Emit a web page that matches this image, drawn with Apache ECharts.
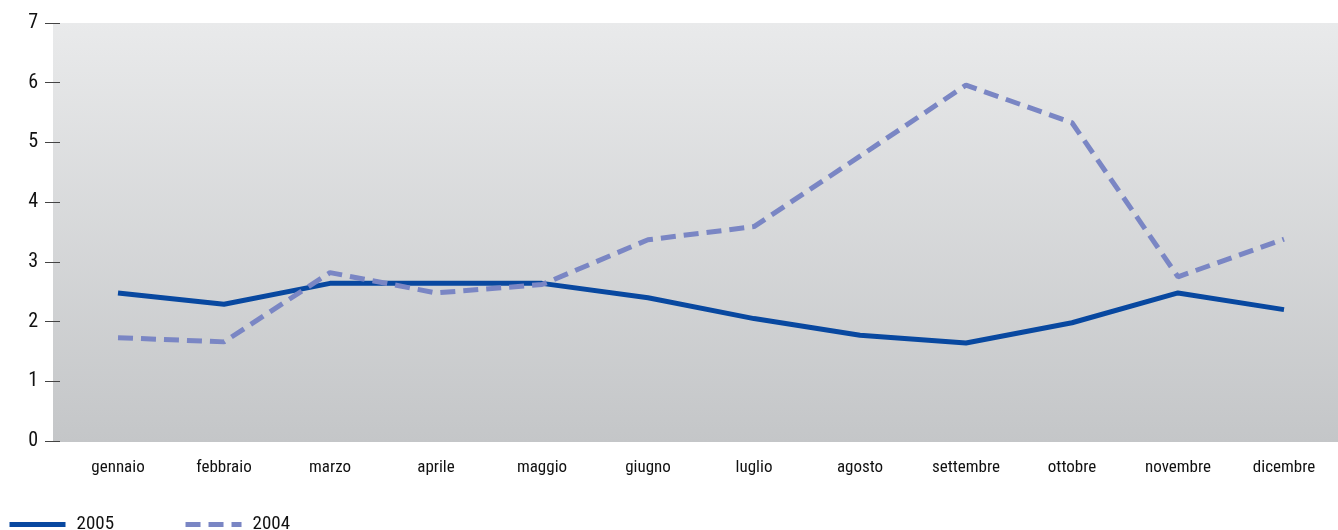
<!DOCTYPE html>
<html>
<head>
<meta charset="utf-8">
<script src="https://cdn.jsdelivr.net/npm/echarts@6/dist/echarts.min.js"></script>
<style>
  html, body { margin: 0; padding: 0; background: #fff; }
  #chart { width: 1338px; height: 530px; }
</style>
</head>
<body>
<div id="chart"></div>
<script>
var months = ['gennaio', 'febbraio', 'marzo', 'aprile', 'maggio', 'giugno',
	'luglio', 'agosto', 'settembre', 'ottobre', 'novembre', 'dicembre'];
var values2005 = [2.48, 2.29, 2.64, 2.64, 2.64, 2.40, 2.05, 1.77, 1.64, 1.98, 2.48, 2.20];
var values2004 = [1.73, 1.66, 2.82, 2.48, 2.62, 3.37, 3.59, 4.77, 5.96, 5.33, 2.75, 3.38];
var yTicks = [0, 1, 2, 3, 4, 5, 6, 7];

var font = '"Roboto Condensed", "Liberation Sans Narrow", sans-serif';
var chart = echarts.init(document.getElementById('chart'));

var option = {
	animation: false,
	textStyle: { fontFamily: font },
	graphic: [{
		type: 'rect',
		z: -10,
		shape: { x: 53, y: 23, width: 1285, height: 419 },
		style: {
			fill: new echarts.graphic.LinearGradient(0, 0, 0, 1, [
				{ offset: 0, color: '#e9eaeb' },
				{ offset: 1, color: '#c4c6c8' }
			])
		}
	}],
	grid: { left: 65, right: 1, top: 23, bottom: 89 },
	legend: {
		left: 2,
		bottom: -9,
		itemWidth: 56,
		itemHeight: 14,
		itemGap: 69,
		itemStyle: { opacity: 0 },
		lineStyle: { width: 5 },
		textStyle: { fontFamily: font, fontSize: 19, color: '#111', padding: [0, 0, 0, 6] },
		data: ['2005', '2004']
	},
	xAxis: {
		type: 'category',
		data: months,
		boundaryGap: true,
		axisLine: { show: false },
		axisTick: { show: false },
		axisLabel: { margin: 18, fontSize: 17, color: '#111', fontFamily: font }
	},
	yAxis: {
		type: 'value',
		min: yTicks[0],
		max: yTicks[yTicks.length - 1],
		interval: 1,
		offset: 5,
		splitLine: { show: false },
		axisLine: { show: false },
		axisTick: { show: true, length: 15, lineStyle: { color: '#444', width: 1 } },
		axisLabel: { margin: 22, fontSize: 20, color: '#111', fontFamily: font }
	},
	series: [{
		name: '2005',
		type: 'line',
		data: values2005,
		symbol: 'none',
		lineStyle: { color: '#0848a0', width: 5 },
		itemStyle: { color: '#0848a0' }
	}, {
		name: '2004',
		type: 'line',
		data: values2004,
		symbol: 'none',
		lineStyle: { color: '#7a86c4', width: 5, type: [15, 8] },
		itemStyle: { color: '#7a86c4' }
	}]
};
chart.setOption(option);
</script>
</body>
</html>
